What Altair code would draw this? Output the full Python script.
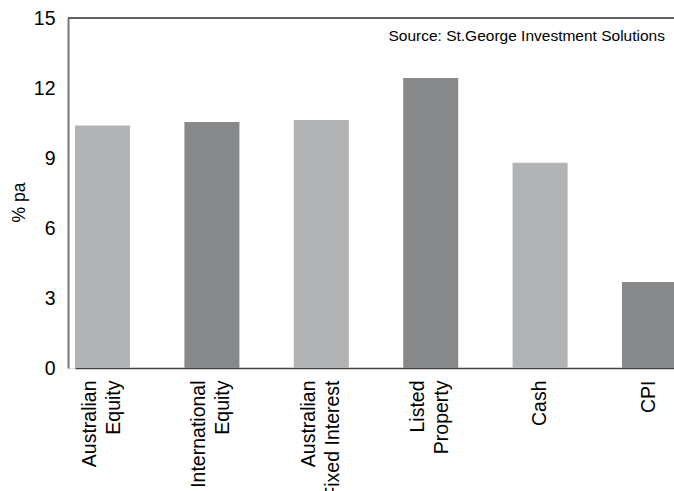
import altair as alt
import pandas as pd

categories = ["Australian|Equity", "International|Equity", "Australian|Fixed Interest",
              "Listed|Property", "Cash", "CPI"]
values = [10.39, 10.54, 10.63, 12.43, 8.80, 3.69]
shades = ["light", "dark", "light", "dark", "light", "dark"]
y_ticks = [0, 3, 6, 9, 12, 15]
source_text = ["Source: St.George Investment Solutions"]

df = pd.DataFrame({"cat": categories, "val": values, "shade": shades})

FONT = "Liberation Sans"

bars = alt.Chart(df).mark_bar().encode(
    x=alt.X("cat:N", sort=categories,
            scale=alt.Scale(range=[7, 609], paddingInner=0.497, paddingOuter=0),
            axis=alt.Axis(title=None, labelAngle=270, labelAlign="right",
                          labelBaseline="middle", labelExpr="split(datum.label, '|')",
                          labelOffset={"condition": {"test": "indexof(datum.label, '|') >= 0",
                                                     "value": -12.5}, "value": 0},
                          labelFont=FONT, labelFontSize=19.5, labelLineHeight=24,
                          labelColor="#000", labelPadding=12, ticks=False,
                          domainColor="#444", domainWidth=1.5, labelOverlap=False,
                          labelBound=False, labelFlush=False)),
    y=alt.Y("val:Q", scale=alt.Scale(domain=[0, 15], nice=False),
            axis=alt.Axis(title="% pa", values=y_ticks, grid=False, ticks=False,
                          labelFont=FONT, labelFontSize=19.5, labelColor="#000",
                          labelPadding=13, domainColor="#777", domainWidth=2,
                          titleFont=FONT, titleFontSize=17.5, titleFontWeight="normal",
                          titleColor="#000", titleAngle=270, titleAlign="center",
                          titleBaseline="alphabetic", titleX=-44, titleY=184)),
    color=alt.Color("shade:N", scale=alt.Scale(domain=["light", "dark"],
                                               range=["#b2b3b5", "#87888a"]),
                    legend=None),
)

top_line = alt.Chart(pd.DataFrame({"v": [15]})).mark_rule(color="#333", strokeWidth=1.5).encode(
    y="v:Q"
)

src = alt.Chart(pd.DataFrame({"t": source_text})).mark_text(
    font=FONT, fontSize=15.5, align="right", baseline="alphabetic", color="#000"
).encode(text="t:N", x=alt.value(597), y=alt.value(23))

chart = alt.layer(bars, top_line, src).properties(
    width=606, height=350,
    autosize=alt.AutoSizeParams(type="none"),
    padding={"left": 68, "top": 18, "right": 0, "bottom": 123},
).configure_view(stroke=None).configure(background="white")

chart.save("out.html", embed_options={"renderer": "svg", "actions": False})
